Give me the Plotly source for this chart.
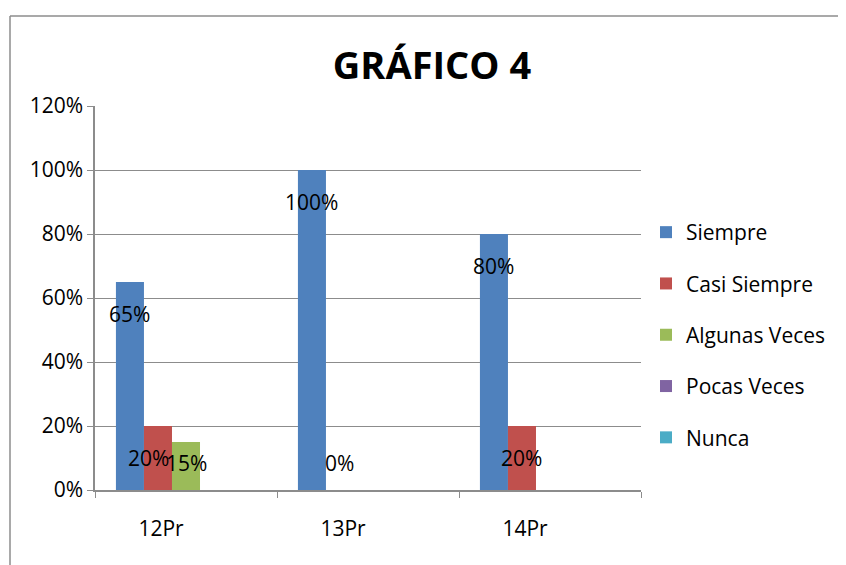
import plotly.graph_objects as go

categories = ["12Pr", "13Pr", "14Pr"]
series_names = ["Siempre", "Casi Siempre", "Algunas Veces", "Pocas Veces", "Nunca"]
siempre = [0.65, 1.00, 0.80]
casi_siempre = [0.20, 0.0, 0.20]
algunas_veces = [0.15, None, None]
pocas_veces = [None, None, None]
nunca = [None, None, None]
y_ticks = [0, 0.2, 0.4, 0.6, 0.8, 1.0, 1.2]
y_tick_labels = ["0%", "20%", "40%", "60%", "80%", "100%", "120%"]
colors = ["#4F81BD", "#C0504D", "#9BBB59", "#8064A2", "#4BACC6"]

all_series = [siempre, casi_siempre, algunas_veces, pocas_veces, nunca]

W, H = 846, 565
OFF = 8  # page body margin
# target picture coordinates of plot area
PL, PR, PT, PB = 95, 641, 106, 490
ml = PL - OFF
mr = W - (PR - OFF)
mt = PT - OFF
mb = H - (PB - OFF)
FONT = "Open Sans"
FS = 21
bargap = 0.23

fig = go.Figure()
for i, (name, vals) in enumerate(zip(series_names, all_series)):
    fig.add_trace(go.Bar(
        name=name, x=categories, y=vals, marker_color=colors[i],
        marker_line_width=0, legendgroup=name,
    ))

# data labels
bw = (1 - bargap) / len(series_names)
annotations = []
for i, vals in enumerate(all_series):
    for j, v in enumerate(vals):
        if v is None:
            continue
        xpos = j + (i - (len(series_names) - 1) / 2) * bw
        ypos = max(v - 0.10, 0.085)
        xshift = -9 if (i == 1 and j == 0) else 0
        annotations.append(dict(
            x=xpos, y=ypos, xref="x", yref="y", text=f"{round(v*100)}%",
            showarrow=False, xshift=xshift,
            font=dict(family=FONT, size=FS, color="#000000"),
        ))

pw = W - ml - mr
ph = H - mt - mb
# convert picture pixel coords to paper coords
fx = lambda px: (px - OFF - ml) / pw
fy = lambda py: (H - mb - (py - OFF)) / ph

shapes = [
    dict(type="line", xref="paper", yref="paper", x0=fx(10), x1=fx(10), y0=fy(16), y1=fy(580),
         line=dict(color="#8c8c8c", width=1.5)),
    dict(type="line", xref="paper", yref="paper", x0=fx(10), x1=fx(860), y0=fy(16), y1=fy(16),
         line=dict(color="#8c8c8c", width=1.5)),
]

fig.update_layout(
    width=W, height=H,
    margin=dict(l=ml, r=mr, t=mt, b=mb),
    paper_bgcolor="white", plot_bgcolor="white",
    barmode="group", bargap=bargap, bargroupgap=0,
    title=dict(text="<b>GRÁFICO 4</b>", x=(432 - OFF) / W, xanchor="center", xref="container",
               y=1 - (66 - OFF) / H, yanchor="middle", font=dict(family=FONT, size=38, color="#000000")),
    font=dict(family=FONT, size=FS, color="#000000"),
    legend=dict(x=fx(646), xanchor="left", y=fy(212), yanchor="top", tracegroupgap=21,
                font=dict(family=FONT, size=FS, color="#000000"), itemwidth=30,
                bgcolor="rgba(0,0,0,0)"),
    annotations=annotations,
    shapes=shapes,
)
fig.update_xaxes(
    type="category", showline=True, linecolor="#8c8c8c", linewidth=1.5,
    ticks="outside", tickson="boundaries", ticklen=6, tickcolor="#8c8c8c",
    ticklabelshift=-25, ticklabelstandoff=19,
    tickfont=dict(family=FONT, size=FS, color="#000000"),
    showgrid=False,
)
fig.update_yaxes(
    range=[0, 1.2], tickvals=y_ticks, ticktext=y_tick_labels,
    showline=True, linecolor="#8c8c8c", linewidth=1.5,
    ticks="outside", ticklen=6, tickcolor="#8c8c8c",
    showgrid=True, gridcolor="#8c8c8c", gridwidth=1.2, zeroline=False,
    tickfont=dict(family=FONT, size=FS, color="#000000"),
)

fig.write_html("out.html")
